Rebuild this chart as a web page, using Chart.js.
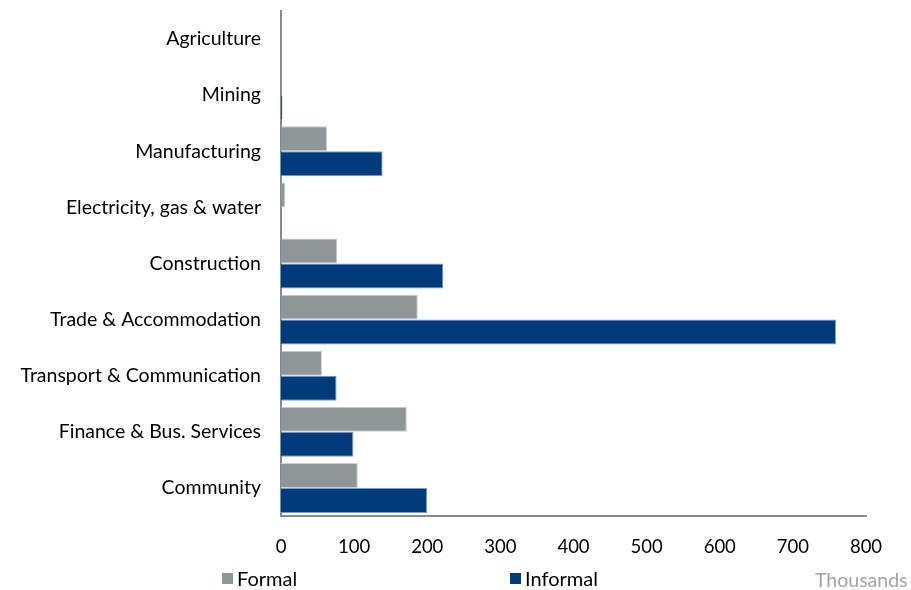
<!DOCTYPE html>
<html>
<head>
<meta charset="utf-8">
<script src="https://cdn.jsdelivr.net/npm/chart.js@4.4.1/dist/chart.umd.min.js"></script>
<style>
  html, body { margin: 0; padding: 0; background: #fff; }
  #wrap { position: relative; width: 911px; height: 590px; font-family: Lato, sans-serif; }
  #chart { position: absolute; left: 0; top: 0; }
  .key { position: absolute; top: 566px; font-size: 20px; color: #000; display: flex; align-items: center; }
  .key i { display: inline-block; width: 11px; height: 11px; margin-right: 4px; }
  #unit { position: absolute; left: 815px; top: 568px; font-size: 19.5px; color: #a3a3a3; }
</style>
</head>
<body>
<div id="wrap">
  <canvas id="chart" width="911" height="590"></canvas>
  <div class="key" style="left:222px"><i style="background:#8d9797"></i>Formal</div>
  <div class="key" style="left:510px"><i style="background:#003b7c"></i>Informal</div>
  <div id="unit">Thousands</div>
</div>
<script>
(() => {
    const sectors = ['Agriculture', 'Mining', 'Manufacturing', 'Electricity, gas & water', 'Construction',
        'Trade & Accommodation', 'Transport & Communication', 'Finance & Bus. Services', 'Community'];
    const formal = [0, 0, 63, 6, 77, 187, 56, 172, 105];
    const informal = [0, 2, 139, 0.5, 222, 759, 76, 99, 200];
    const xTicks = [0, 100, 200, 300, 400, 500, 600, 700, 800];

    const axisBorder = { display: true, color: '#8a8a8a', width: 2 };

    new Chart(document.getElementById('chart'), {
        type: 'bar',
        data: {
            labels: sectors,
            datasets: [
                { label: 'Formal', data: formal, backgroundColor: '#8d9797', borderColor: '#c9d0d0', borderWidth: 1 },
                { label: 'Informal', data: informal, backgroundColor: '#003b7c', borderColor: '#7f9cc4', borderWidth: 1 }
            ]
        },
        options: {
            indexAxis: 'y',
            responsive: false,
            animation: false,
            categoryPercentage: 0.89,
            barPercentage: 1,
            layout: { padding: { top: 11, right: 45, left: 0, bottom: 0 } },
            plugins: { legend: { display: false }, tooltip: { enabled: false } },
            scales: {
                x: {
                    min: 0,
                    max: 800,
                    afterBuildTicks: (scale) => { scale.ticks = xTicks.map((v) => ({ value: v })); },
                    afterFit: (scale) => { scale.height = 74; },
                    grid: { display: false },
                    border: axisBorder,
                    ticks: { color: '#000', font: { family: 'Lato, sans-serif', size: 18.5 }, padding: 12, maxRotation: 0 }
                },
                y: {
                    // fixed label column; no extra room above the first category
                    afterFit: (scale) => {
                        scale.width = 281;
                        scale.paddingTop = 0;
                        scale.paddingBottom = 0;
                    },
                    grid: { display: false },
                    border: axisBorder,
                    ticks: { color: '#000', font: { family: 'Lato, sans-serif', size: 19.5 }, padding: 12, autoSkip: false }
                }
            }
        }
    });
})();
</script>
</body>
</html>
